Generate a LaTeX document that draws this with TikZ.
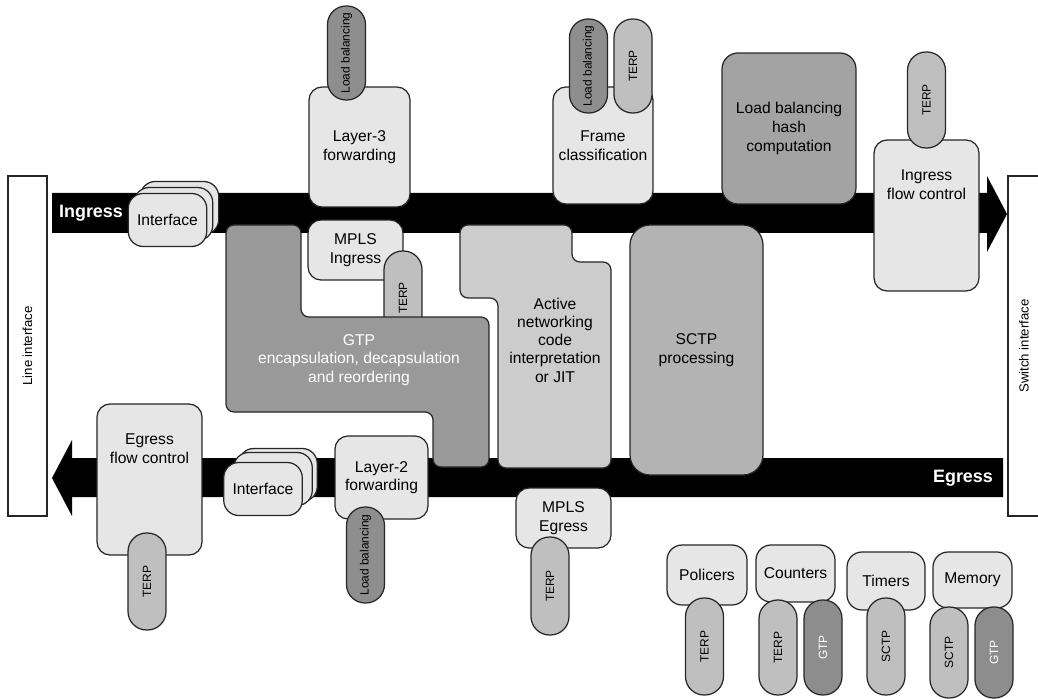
\documentclass[tikz,border=0pt]{standalone}
\usepackage{fontspec}
\setmainfont{Liberation Sans}
\usepackage{tikz}
\definecolor{edgegray}{HTML}{262626}
\definecolor{boxgray}{HTML}{E6E6E6}
\definecolor{terpgray}{HTML}{BFBFBF}
\definecolor{lbgray}{HTML}{8E8E8E}
\definecolor{gtpgray}{HTML}{999999}
\definecolor{hashgray}{HTML}{A3A3A3}
\definecolor{sctpgray}{HTML}{B3B3B3}
\definecolor{anetgray}{HTML}{CCCCCC}

\begin{document}
\begin{tikzpicture}[x=0.02cm, y=-0.02cm,
    every node/.style={inner sep=0pt, outer sep=0pt},
    lbox/.style={rectangle, draw=edgegray, fill=boxgray, line width=0.7pt, rounded corners=0.26cm,
      align=center, font=\fontsize{8.9}{10.6}\selectfont},
    ifbox/.style={lbox, rounded corners=0.3cm, minimum width=1.57cm, minimum height=1.06cm},
    bigshape/.style={draw=edgegray, line width=0.7pt, rounded corners=0.16cm},
    pill/.style={rectangle, draw=edgegray, line width=0.7pt, rounded corners=0.37cm, rotate=90,
      minimum height=0.76cm, font=\fontsize{6.8}{8}\selectfont},
    terp/.style={pill, fill=terpgray},
    lbpill/.style={pill, fill=lbgray},
    gtppill/.style={pill, fill=gtpgray!92!black, text=white},
    sideif/.style={rectangle, draw=edgegray, fill=white, line width=0.7pt, rotate=90,
      minimum width=6.8cm, font=\fontsize{7.5}{9}\selectfont},
    flowlab/.style={text=white, font=\bfseries\fontsize{10.2}{12}\selectfont},
    toplab/.style={anchor=north, yshift=-0.6cm, align=center, font=\fontsize{8.9}{10.6}\selectfont},
    txt/.style={align=center, font=\fontsize{8.9}{10.4}\selectfont}]
  \useasboundingbox (0,0) rectangle (1038,699);

  \node[sideif, minimum height=0.78cm] (lineif) at (27.5,346) {Line interface};
  \node[sideif, minimum height=0.64cm] (switchif) at (1024,346) {Switch interface};

  \fill (52,193) -- (987,193) -- (987,176) -- (1007,214) -- (987,252) -- (987,233) -- (52,233) -- cycle;
  \fill (1003,458) -- (72,458) -- (72,440) -- (52,478) -- (72,516) -- (72,497) -- (1003,497) -- cycle;
  \node[flowlab] (inglab) at (91,213) {Ingress};
  \node[flowlab] (eglab) at (963,478) {Egress};

  \node[lbox, minimum width=2.02cm, minimum height=2.4cm] (l3fwd) at (359.5,147) {Layer-3\\forwarding};
  \node[lbpill, minimum width=1.88cm] (l3lb) at (346.5,53) {Load balancing};
  \node[lbox, minimum width=2cm, minimum height=2.34cm] (frame) at (603,145.5) {Frame\\classification};
  \node[lbpill, minimum width=1.88cm] (framelb) at (588.5,66) {Load balancing};
  \node[terp, minimum width=1.88cm] (frameterp) at (633,66) {TERP};
  \node[lbox, fill=hashgray, rounded corners=0.32cm, minimum width=2.68cm, minimum height=3.02cm] (hash)
    at (789,128.5) {Load balancing\\hash\\computation};
  \node[lbox, minimum width=2.1cm, minimum height=3.02cm,
    label={[toplab, name=ingfctext]north:Ingress\\flow control}] (ingfc) at (926.5,215.5) {};
  \node[terp, minimum width=1.92cm] (ingfcterp) at (926.5,100) {TERP};

  \node[ifbox] (ingif3) at (179.5,208) {};
  \node[ifbox] (ingif2) at (173.5,214) {};
  \node[ifbox] (ingif) at (167.5,220) {Interface};

  \node[lbox, minimum width=1.9cm, minimum height=1.2cm] (mplsin) at (355.5,250) {MPLS\\Ingress};
  \node[terp, minimum width=1.88cm] (mplsinterp) at (403,298) {TERP};
  \draw[bigshape, fill=gtpgray] (226,225) -- (301,225) -- (301,317) -- (489,317) -- (489,467)
    -- (433,467) -- (433,412) -- (226,412) -- cycle;
  \node[txt, text=white] (gtptext) at (359,360) {GTP\\encapsulation, decapsulation\\and reordering};
  \draw[bigshape, fill=anetgray] (460,225) -- (572,225) -- (572,262) -- (611,262) -- (611,468)
    -- (498,468) -- (498,298) -- (460,298) -- cycle;
  \node[txt] (anettext) at (555,340) {Active\\networking\\code\\interpretation\\or JIT};
  \node[lbox, fill=sctpgray, rounded corners=0.4cm, minimum width=2.66cm, minimum height=5cm] (sctpproc)
    at (696.5,350) {SCTP\\processing};

  \node[lbox, minimum width=2.1cm, minimum height=3.02cm,
    label={[toplab, name=egfctext]north:Egress\\flow control}] (egfc) at (149.5,479.5) {};
  \node[terp, minimum width=1.94cm] (egfcterp) at (147,581.5) {TERP};
  \node[ifbox] (egif3) at (278,475) {};
  \node[ifbox] (egif2) at (273,479) {};
  \node[ifbox] (egif) at (263,489) {Interface};
  \node[lbox, minimum width=1.86cm, minimum height=1.66cm] (l2fwd) at (381.5,477.5) {Layer-2\\forwarding};
  \node[lbpill, minimum width=1.92cm] (l2lb) at (365.5,555) {Load balancing};
  \node[lbox, minimum width=1.9cm, minimum height=1.2cm] (mplseg) at (563.5,518) {MPLS\\Egress};
  \node[terp, minimum width=1.96cm] (mplsegterp) at (550,586) {TERP};

  \node[lbox, rounded corners=0.3cm, minimum width=1.6cm, minimum height=1.2cm] (policers) at (707,575) {Policers};
  \node[terp, minimum width=1.94cm] (policersterp) at (704.5,646.5) {TERP};
  \node[lbox, rounded corners=0.3cm, minimum width=1.58cm, minimum height=1.14cm] (counters) at (795.5,573.5) {Counters};
  \node[terp, minimum width=1.9cm] (countersterp) at (778,647.5) {TERP};
  \node[gtppill, minimum width=1.9cm] (countersgtp) at (823,647.5) {GTP};
  \node[lbox, rounded corners=0.3cm, minimum width=1.56cm, minimum height=1.16cm] (timers) at (886,581) {Timers};
  \node[terp, minimum width=1.94cm] (timerssctp) at (886,646.5) {SCTP};
  \node[lbox, rounded corners=0.3cm, minimum width=1.58cm, minimum height=1.12cm] (memory) at (972.5,580) {Memory};
  \node[terp, minimum width=1.82cm] (memorysctp) at (949,652.5) {SCTP};
  \node[gtppill, minimum width=1.82cm] (memorygtp) at (994,652.5) {GTP};
\end{tikzpicture}
\end{document}
